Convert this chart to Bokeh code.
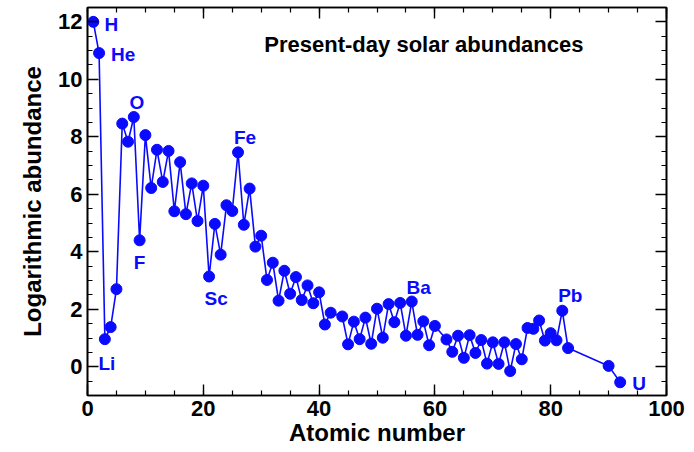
from bokeh.plotting import figure
from bokeh.models import LinearAxis, SingleIntervalTicker, Label, ColumnDataSource
from bokeh.embed import file_html
from bokeh.resources import INLINE
from bokeh.core.properties import value

# Present-day solar photospheric abundances, log eps (H = 12)
atomic_number = [
    1, 2, 3, 4, 5, 6, 7, 8, 9, 10,
    11, 12, 13, 14, 15, 16, 17, 18, 19, 20,
    21, 22, 23, 24, 25, 26, 27, 28, 29, 30,
    31, 32, 33, 34, 35, 36, 37, 38, 39, 40,
    41, 42, 44, 45, 46, 47, 48, 49, 50,
    51, 52, 53, 54, 55, 56, 57, 58, 59, 60,
    62, 63, 64, 65, 66, 67, 68, 69, 70,
    71, 72, 73, 74, 75, 76, 77, 78, 79, 80,
    81, 82, 83, 90, 92,
]
element = [
    "H", "He", "Li", "Be", "B", "C", "N", "O", "F", "Ne",
    "Na", "Mg", "Al", "Si", "P", "S", "Cl", "Ar", "K", "Ca",
    "Sc", "Ti", "V", "Cr", "Mn", "Fe", "Co", "Ni", "Cu", "Zn",
    "Ga", "Ge", "As", "Se", "Br", "Kr", "Rb", "Sr", "Y", "Zr",
    "Nb", "Mo", "Ru", "Rh", "Pd", "Ag", "Cd", "In", "Sn",
    "Sb", "Te", "I", "Xe", "Cs", "Ba", "La", "Ce", "Pr", "Nd",
    "Sm", "Eu", "Gd", "Tb", "Dy", "Ho", "Er", "Tm", "Yb",
    "Lu", "Hf", "Ta", "W", "Re", "Os", "Ir", "Pt", "Au", "Hg",
    "Tl", "Pb", "Bi", "Th", "U",
]
log_abundance = [
    12.00, 10.914, 0.96, 1.38, 2.70, 8.46, 7.83, 8.69, 4.40, 8.06,
    6.22, 7.55, 6.43, 7.51, 5.41, 7.12, 5.31, 6.38, 5.07, 6.30,
    3.14, 4.97, 3.90, 5.62, 5.42, 7.46, 4.94, 6.20, 4.18, 4.56,
    3.02, 3.62, 2.30, 3.34, 2.54, 3.12, 2.32, 2.83, 2.21, 2.59,
    1.47, 1.88, 1.75, 0.78, 1.57, 0.96, 1.71, 0.80, 2.02,
    1.01, 2.18, 1.55, 2.22, 1.08, 2.27, 1.11, 1.58, 0.75, 1.42,
    0.95, 0.52, 1.08, 0.31, 1.10, 0.48, 0.93, 0.11, 0.85,
    0.10, 0.85, -0.15, 0.79, 0.26, 1.35, 1.32, 1.61, 0.91, 1.17,
    0.92, 1.95, 0.65, 0.03, -0.54,
]

# Elements that get a name tag next to their point
tagged_elements = ["H", "He", "Li", "O", "F", "Sc", "Fe", "Ba", "Pb", "U"]

# Pixel offsets of each tag from its point (x right, y down)
tag_offset = {
    "H": (18, 3), "He": (24, 1), "Li": (2, 24), "O": (3, -15),
    "F": (0, 22), "Sc": (7, 22), "Fe": (7, -15), "Ba": (7, -14),
    "Pb": (8, -15), "U": (19, 1),
}

FONT = "Liberation Sans"
BLUE = "#0a0aff"

p = figure(
    width=694, height=452,
    x_range=(0, 100), y_range=(-1.0, 12.5),
    output_backend="svg", toolbar_location=None,
    min_border_left=87, min_border_right=28,
    min_border_top=7, min_border_bottom=57,
)
p.background_fill_color = "white"
p.border_fill_color = "white"
p.xgrid.visible = False
p.ygrid.visible = False
p.outline_line_color = "black"
p.outline_line_width = 1.6

src = ColumnDataSource(dict(z=atomic_number, a=log_abundance, el=element))
p.line("z", "a", source=src, line_color=BLUE, line_width=1.6)
p.scatter("z", "a", source=src, size=11, fill_color=BLUE, line_color=BLUE)

idx = [element.index(e) for e in tagged_elements]
tag_src = ColumnDataSource(dict(
    z=[atomic_number[i] for i in idx],
    a=[log_abundance[i] for i in idx],
    el=tagged_elements,
    dx=[tag_offset[e][0] for e in tagged_elements],
    dy=[tag_offset[e][1] for e in tagged_elements],
))
p.text("z", "a", text="el", source=tag_src, x_offset="dx", y_offset="dy",
       text_align="center", text_baseline="middle",
       text_font=value(FONT), text_font_style="bold",
       text_font_size="19px", text_color=BLUE)

p.add_layout(Label(
    x=58.1, y=11.23, text="Present-day solar abundances",
    text_align="center", text_baseline="middle",
    text_font=FONT, text_font_style="bold", text_font_size="22px",
    text_color="black",
))


def style_axis(ax, ticker, show_labels):
    ax.ticker = ticker
    ax.axis_line_color = "black"
    ax.axis_line_width = 1.6
    ax.major_tick_line_color = "black"
    ax.minor_tick_line_color = "black"
    ax.major_tick_line_width = 1.4
    ax.minor_tick_line_width = 1.2
    ax.major_tick_in = 11
    ax.major_tick_out = 0
    ax.minor_tick_in = 5
    ax.minor_tick_out = 0
    ax.major_label_text_font = FONT
    ax.major_label_text_font_style = "bold"
    ax.axis_label_text_font = FONT
    ax.axis_label_text_font_style = "bold"
    ax.axis_label_text_color = "black"
    if show_labels:
        ax.major_label_text_color = "black"
        ax.major_label_text_font_size = "22px"
        ax.axis_label_text_font_size = "24px"
    else:
        # tick marks only on the mirrored frame edges
        ax.major_label_text_color = None
        ax.major_label_text_font_size = "1px"
        ax.major_label_standoff = 0


xa = p.xaxis[0]
style_axis(xa, SingleIntervalTicker(interval=20, num_minor_ticks=4), True)
xa.axis_label = "Atomic number"
xa.major_label_standoff = 5
xa.axis_label_standoff = 0

ya = p.yaxis[0]
style_axis(ya, SingleIntervalTicker(interval=2, num_minor_ticks=4), True)
ya.axis_label = "Logarithmic abundance"
ya.major_label_standoff = 5
ya.axis_label_standoff = 9

top = LinearAxis()
style_axis(top, SingleIntervalTicker(interval=20, num_minor_ticks=4), False)
p.add_layout(top, "above")

right = LinearAxis()
style_axis(right, SingleIntervalTicker(interval=2, num_minor_ticks=4), False)
p.add_layout(right, "right")

open("out.html", "w").write(file_html(p, INLINE))
